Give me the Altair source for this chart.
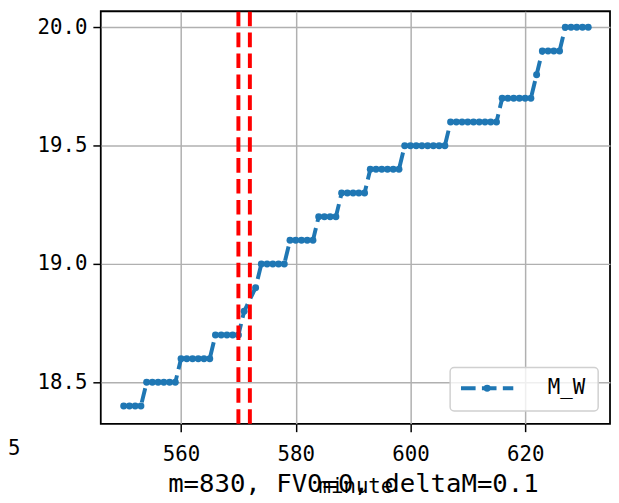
import altair as alt
import pandas as pd

# ---- data ----
minutes = [550, 551, 552, 553, 554, 555, 556, 557, 558, 559,
           560, 561, 562, 563, 564, 565, 566, 567, 568, 569,
           570, 571, 573, 574, 575, 576, 577, 578, 579, 580,
           581, 582, 583, 584, 585, 586, 587, 588, 589, 590,
           591, 592, 593, 594, 595, 596, 597, 598, 599, 600,
           601, 602, 603, 604, 605, 606, 607, 608, 609, 610,
           611, 612, 613, 614, 615, 616, 617, 618, 619, 620,
           621, 622, 623, 624, 625, 626, 627, 628, 629, 630,
           631]
m_w = [18.4, 18.4, 18.4, 18.4, 18.5, 18.5, 18.5, 18.5, 18.5, 18.5,
       18.6, 18.6, 18.6, 18.6, 18.6, 18.6, 18.7, 18.7, 18.7, 18.7,
       18.7, 18.8, 18.9, 19.0, 19.0, 19.0, 19.0, 19.0, 19.1, 19.1,
       19.1, 19.1, 19.1, 19.2, 19.2, 19.2, 19.2, 19.3, 19.3, 19.3,
       19.3, 19.3, 19.4, 19.4, 19.4, 19.4, 19.4, 19.4, 19.5, 19.5,
       19.5, 19.5, 19.5, 19.5, 19.5, 19.5, 19.6, 19.6, 19.6, 19.6,
       19.6, 19.6, 19.6, 19.6, 19.6, 19.7, 19.7, 19.7, 19.7, 19.7,
       19.7, 19.8, 19.9, 19.9, 19.9, 19.9, 20.0, 20.0, 20.0, 20.0,
       20.0]
vlines = [570, 572]
x_ticks = [560, 580, 600, 620]
y_ticks = [18.5, 19.0, 19.5, 20.0]
series_name = "M_W"
x_title = "minute"
caption = "m=830, FV0=0, deltaM=0.1"
stray = "5"

BLUE = "#1f77b4"
MONO = "DejaVu Sans Mono"
W, H = 516, 418

df = pd.DataFrame({"minute": minutes, "M_W": m_w})
vl = pd.DataFrame({"minute": vlines})
one = pd.DataFrame({"name": [series_name]})

xs = alt.Scale(domain=[546.0, 634.8], nice=False, zero=False)
ys = alt.Scale(domain=[18.325, 20.068], nice=False, zero=False)

x_axis = alt.Axis(values=x_ticks, title=x_title, labelPadding=12,
                  titleY=70, titleBaseline="alphabetic")
y_axis = alt.Axis(values=y_ticks, title=None, format=".1f", labelPadding=6)

base = alt.Chart(df)
line = base.mark_line(color=BLUE, strokeWidth=4, strokeDash=[14.8, 6.4]).encode(
    x=alt.X("minute:Q", scale=xs, axis=x_axis),
    y=alt.Y("M_W:Q", scale=ys, axis=y_axis),
)
pts = base.mark_circle(color=BLUE, size=50, opacity=1).encode(
    x=alt.X("minute:Q", scale=xs),
    y=alt.Y("M_W:Q", scale=ys),
)
rules = alt.Chart(vl).mark_rule(color="red", strokeWidth=4, strokeDash=[14.8, 6.4]).encode(
    x=alt.X("minute:Q", scale=xs),
    y=alt.value(H),
    y2=alt.value(0),
)

leg_box = alt.Chart(one).mark_rect(
    fill="white", fillOpacity=0.8, stroke="#d0d0d0", strokeWidth=1.5, cornerRadius=4
).encode(x=alt.value(354), x2=alt.value(504), y=alt.value(361), y2=alt.value(405))
leg_line = alt.Chart(one).mark_rule(color=BLUE, strokeWidth=4, strokeDash=[14.8, 6.4]).encode(
    x=alt.value(365), x2=alt.value(418), y=alt.value(382)
)
leg_pt = alt.Chart(one).mark_circle(color=BLUE, size=50, opacity=1).encode(
    x=alt.value(391.5), y=alt.value(382)
)
leg_txt = alt.Chart(one).mark_text(
    align="left", baseline="middle", font=MONO, fontSize=21, color="black"
).encode(x=alt.value(453), y=alt.value(382), text="name:N")

cap = alt.Chart(one).mark_text(
    align="center", baseline="alphabetic", font=MONO, fontSize=26, color="black"
).encode(x=alt.value(256), y=alt.value(487), text=alt.value(caption))
five = alt.Chart(one).mark_text(
    align="left", baseline="middle", font=MONO, fontSize=21, color="black"
).encode(x=alt.value(-94), y=alt.value(444), text=alt.value(stray))

chart = alt.layer(
    line, pts, rules, leg_box, leg_line, leg_pt, leg_txt, cap, five
).properties(
    width=W, height=H,
    padding={"left": 94, "top": 0, "right": 1, "bottom": 77},
    autosize="none",
).configure_view(
    stroke="black", strokeWidth=1.8
).configure_axis(
    domain=False, grid=True, gridColor="#b0b0b0", gridWidth=1.5,
    tickColor="black", tickSize=8, tickWidth=1.5,
    labelFont=MONO, labelFontSize=21, labelColor="black",
    titleFont=MONO, titleFontSize=21, titleFontWeight="normal", titleColor="black",
)

chart.save("out.html", embed_options={"renderer": "svg", "actions": False})
